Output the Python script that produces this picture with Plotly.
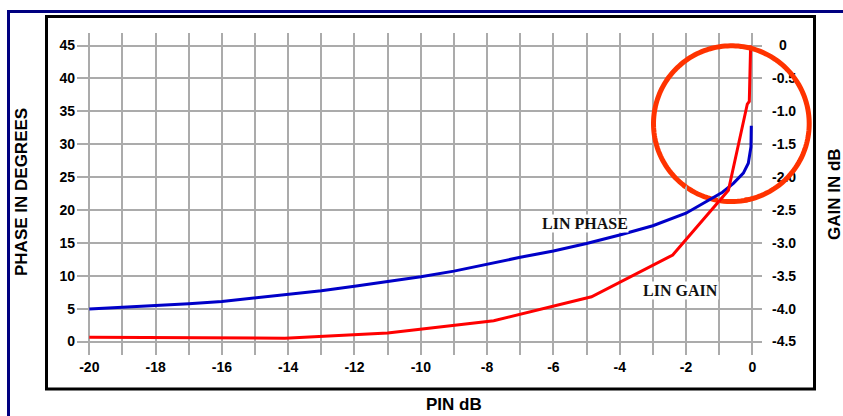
import math
import plotly.graph_objects as go

# ---------------- data ----------------
pin_phase = [-20, -18, -17, -16, -15, -14, -13, -12, -11, -10, -9, -8, -7, -6, -5, -4, -3, -2,
             -1.4, -0.9, -0.57, -0.27, -0.12, -0.04, -0.03]
lin_phase = [4.95, 5.45, 5.75, 6.1, 6.6, 7.1, 7.7, 8.4, 9.1, 9.85, 10.7, 11.8, 12.8, 13.75, 14.9,
             16.2, 17.6, 19.5, 21.2, 22.7, 24.05, 25.6, 27.1, 29.6, 32.8]

pin_gain = [-20, -14.1, -11.0, -7.8, -4.85, -2.4, -0.72, -0.15, -0.09, -0.05]
lin_gain = [-4.435, -4.45, -4.37, -4.185, -3.82, -3.185, -2.2, -0.89, -0.85, 0.0]

x_ticks = [-20, -18, -16, -14, -12, -10, -8, -6, -4, -2, 0]
phase_ticks = [0, 5, 10, 15, 20, 25, 30, 35, 40, 45]
gain_ticks = [-4.5, -4.0, -3.5, -3.0, -2.5, -2.0, -1.5, -1.0, -0.5, 0]
gain_labels = ["-4.5", "-4.0", "-3.5", "-3.0", "-2.5", "-2.0", "-1.5", "-1.0", "-0.5", "\u20020"]

# ---------------- layout geometry ----------------
W, H = 843, 416
L, R, T, B = 77, 81, 33, 61
PW, PH = W - L - R, H - T - B


def px(x):
    return (x - L) / PW


def py(y):
    return (H - B - y) / PH


SANS = "Liberation Sans, Arial, sans-serif"
SERIF = "Liberation Serif, Times New Roman, serif"
GRID = "#ABABAB"

fig = go.Figure()
fig.add_trace(go.Scatter(x=pin_phase, y=lin_phase, mode="lines", name="LIN PHASE",
                         line=dict(color="#0000C8", width=3), yaxis="y"))
fig.add_trace(go.Scatter(x=pin_gain, y=lin_gain, mode="lines", name="LIN GAIN",
                         line=dict(color="#FF0000", width=3), yaxis="y2"))

tickfont = dict(family=SANS, size=14, color="black", weight="bold")

fig.update_layout(
    width=W, height=H,
    margin=dict(l=L, r=R, t=T, b=B, pad=0, autoexpand=False),
    paper_bgcolor="white", plot_bgcolor="rgba(0,0,0,0)",
    showlegend=False,
    xaxis=dict(range=[-20.371, 0.293], tickvals=x_ticks, ticktext=[str(v) for v in x_ticks],
               showgrid=True, gridcolor=GRID, gridwidth=2, zeroline=False, showline=False,
               ticks="", tickfont=tickfont, ticklabelstandoff=2,
               minor=dict(dtick=1, tick0=0, showgrid=True, gridcolor=GRID, gridwidth=2)),
    yaxis=dict(range=[-2.05, 46.9], tickvals=phase_ticks, ticktext=[str(v) for v in phase_ticks],
               showgrid=True, gridcolor=GRID, gridwidth=2, zeroline=False, showline=False,
               ticks="", tickfont=tickfont, ticklabelstandoff=1),
    yaxis2=dict(range=[-4.705, 0.19], tickvals=gain_ticks, ticktext=gain_labels,
                overlaying="y", side="right", showgrid=False, zeroline=False, showline=False,
                ticks="", tickfont=tickfont, ticklabelstandoff=9),
)

title_font = dict(family=SANS, size=17, color="black", weight="bold")
label_font = dict(family=SERIF, size=16, color="#111111", weight="bold")
annos = [
    dict(text="PHASE IN DEGREES", x=px(21), y=py(192), xref="paper", yref="paper",
         xanchor="center", yanchor="middle", textangle=-90, showarrow=False, font=title_font),
    dict(text="GAIN IN dB", x=px(834), y=py(194), xref="paper", yref="paper",
         xanchor="center", yanchor="middle", textangle=-90, showarrow=False, font=title_font),
    dict(text="PIN dB", x=px(454), y=py(415.5), xref="paper", yref="paper",
         xanchor="center", yanchor="bottom", showarrow=False, font=title_font),
    dict(text="LIN PHASE", x=-5.06, y=17.9, xref="x", yref="y", showarrow=False,
         bgcolor="white", borderpad=0, font=label_font),
    dict(text="LIN GAIN", x=-2.16, y=7.68, xref="x", yref="y", showarrow=False,
         bgcolor="white", borderpad=0, font=label_font),
]
fig.update_layout(annotations=annos)

# highlight circle, built as two arcs: the short bottom arc (where the curves cross it)
# goes under the curves, the rest sits above the gridlines
CX, CY, CR = 731.35, 123.65, 77.85


def arc_path(a0, a1, n=80):
    pts = []
    for i in range(n + 1):
        a = math.radians(a0 + (a1 - a0) * i / n)
        pts.append((px(CX + CR * math.cos(a)), py(CY + CR * math.sin(a))))
    return "M " + " L ".join(f"{x:.5f},{y:.5f}" for x, y in pts)


circle_line = dict(color="#FF3300", width=5)
shapes = [
    # outer navy frame (top and left edges)
    dict(type="line", xref="paper", yref="paper", x0=px(7.5), x1=px(843), y0=py(11.5), y1=py(11.5),
         line=dict(color="#000080", width=3)),
    dict(type="line", xref="paper", yref="paper", x0=px(8.5), x1=px(8.5), y0=py(10), y1=py(416),
         line=dict(color="#000080", width=3)),
    # black inner frame
    dict(type="rect", xref="paper", yref="paper", x0=px(46.5), x1=px(814.5), y0=py(389), y1=py(16.5),
         line=dict(color="black", width=3), fillcolor="rgba(0,0,0,0)"),
    dict(type="path", xref="paper", yref="paper", layer="below", path=arc_path(78, 128, 20),
         line=circle_line),
    dict(type="path", xref="paper", yref="paper", layer="above", path=arc_path(126, 440, 160),
         line=circle_line),
]
fig.update_layout(shapes=shapes)

fig.write_html("out.html", config={"displayModeBar": False},
               post_script="document.body.style.margin='0';")
